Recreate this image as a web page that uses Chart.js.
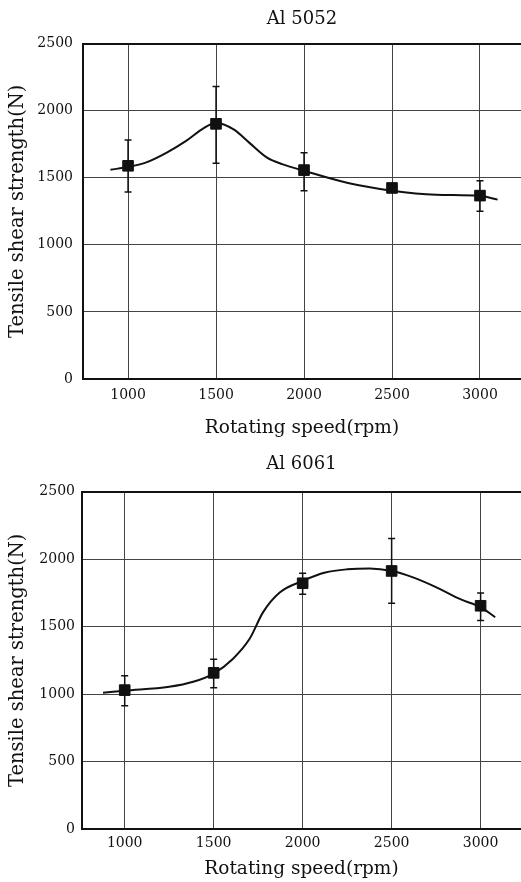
<!DOCTYPE html>
<html>
<head>
<meta charset="utf-8">
<script src="https://cdn.jsdelivr.net/npm/chart.js@4/dist/chart.umd.min.js"></script>
<style>
  html, body { margin: 0; padding: 0; background: #fff; }
  .box { position: absolute; left: 0; }
  canvas { display: block; }
</style>
</head>
<body>
<div class="box" style="top:0"><canvas id="c5052" width="521" height="445"></canvas></div>
<div class="box" style="top:445px"><canvas id="c6061" width="521" height="437"></canvas></div>
<script>
// measured points (rpm)
const speeds = [1000, 1500, 2000, 2500, 3000];
const xTicks = [1000, 1500, 2000, 2500, 3000];

// Al 5052
const al5052Mean = [1589, 1902, 1557, 1424, 1367];
const al5052Low  = [1394, 1608, 1404, 1392, 1251];
const al5052High = [1781, 2181, 1687, 1452, 1478];
// fitted curve
const al5052CurveX = [900, 1000, 1100, 1220, 1330, 1430, 1500, 1600, 1690, 1790, 1880, 2000, 2250, 2500, 2750, 3000, 3100];
const al5052CurveY = [1560, 1580, 1613, 1688, 1775, 1870, 1910, 1860, 1760, 1650, 1600, 1552, 1461, 1404, 1374, 1365, 1337];

// Al 6061
const al6061Mean = [1029, 1157, 1821, 1912, 1654];
const al6061Low  = [914, 1047, 1740, 1672, 1544];
const al6061High = [1135, 1257, 1895, 2152, 1748];
const al6061CurveX = [878, 1000, 1250, 1385, 1500, 1609, 1702, 1777, 1871, 2000, 2127, 2249, 2376, 2502, 2624, 2755, 2886, 3002, 3082];
const al6061CurveY = [1010, 1025, 1054, 1091, 1152, 1262, 1409, 1605, 1752, 1838, 1900, 1924, 1931, 1912, 1863, 1789, 1703, 1642, 1569];

const yTitle = 'Tensile shear strength(N)';
const xTitle = 'Rotating speed(rpm)';
const FONT = "'DejaVu Serif', serif";
const INK = '#111';

function toXY(xs, ys){ return xs.map((x, i) => ({ x, y: ys[i] })); }

function buildChart(id, cfg){
  const errorBars = speeds.map((s, i) => ({
    type: 'line',
    data: [{ x: s, y: cfg.low[i] }, { x: s, y: cfg.high[i] }],
    borderColor: INK,
    borderWidth: 1.5,
    pointStyle: 'line',
    pointRadius: 3.5,
    pointBorderWidth: 1.5,
    pointBorderColor: INK,
    order: 1
  }));

  return new Chart(document.getElementById(id), {
    type: 'line',
    data: {
      datasets: [
        {
          data: toXY(cfg.curveX, cfg.curveY),
          borderColor: INK,
          borderWidth: 2,
          pointRadius: 0,
          cubicInterpolationMode: 'monotone',
          order: 3
        },
        {
          data: toXY(speeds, cfg.mean),
          showLine: false,
          pointStyle: 'rect',
          pointRadius: 7.5,
          pointBackgroundColor: INK,
          pointBorderColor: INK,
          order: 2
        },
        ...errorBars
      ]
    },
    options: {
      responsive: false,
      animation: false,
      layout: { padding: 0, autoPadding: false },
      plugins: {
        legend: { display: false },
        tooltip: { enabled: false },
        title: {
          display: true,
          fullSize: false,
          text: cfg.title,
          color: INK,
          font: { family: FONT, size: 18, weight: 'normal' },
          padding: cfg.titlePad
        }
      },
      scales: {
        x: {
          type: 'linear',
          min: cfg.xMin,
          max: cfg.xMax,
          afterBuildTicks: (s) => { s.ticks = xTicks.map(v => ({ value: v })); },
          afterFit: (s) => { s.height = cfg.xHeight; s.paddingLeft = 0; s.paddingRight = 0; },
          grid: { color: '#444', lineWidth: 1, drawTicks: false },
          border: { display: true, color: INK, width: 2 },
          ticks: {
            color: INK, padding: cfg.xTickPad, maxRotation: 0,
            font: { family: FONT, size: 14 },
            callback: (v) => String(v)
          },
          title: {
            display: true,
            text: xTitle,
            color: INK,
            font: { family: FONT, size: 18.5 },
            padding: { top: 0, bottom: cfg.xTitlePad }
          }
        },
        y: {
          min: 0,
          max: 2500,
          afterFit: (s) => { s.width = cfg.yWidth; },
          grid: {
            color: (c) => (c.tick && c.tick.value === 2500) ? INK : '#444',
            lineWidth: (c) => (c.tick && c.tick.value === 2500) ? 2 : 1,
            drawTicks: false
          },
          border: { display: true, color: INK, width: 2 },
          ticks: {
            stepSize: 500, color: INK, padding: cfg.yTickPad,
            font: { family: FONT, size: 14 },
            callback: (v) => String(v)
          },
          title: {
            display: true,
            text: yTitle,
            color: INK,
            font: { family: FONT, size: 19.5 },
            padding: { top: 6, bottom: 0 }
          }
        }
      }
    }
  });
}

buildChart('c5052', {
  title: 'Al 5052',
  mean: al5052Mean, low: al5052Low, high: al5052High,
  curveX: al5052CurveX, curveY: al5052CurveY,
  xMin: 744, xMax: 3233,
  titlePad: { top: 9, bottom: 13 },
  xHeight: 66, xTickPad: 8, xTitlePad: 6,
  yWidth: 83, yTickPad: 10
});

buildChart('c6061', {
  title: 'Al 6061',
  mean: al6061Mean, low: al6061Low, high: al6061High,
  curveX: al6061CurveX, curveY: al6061CurveY,
  xMin: 760, xMax: 3227,
  titlePad: { top: 9, bottom: 16 },
  xHeight: 53, xTickPad: 5.5, xTitlePad: 2,
  yWidth: 82, yTickPad: 7
});
</script>
</body>
</html>
